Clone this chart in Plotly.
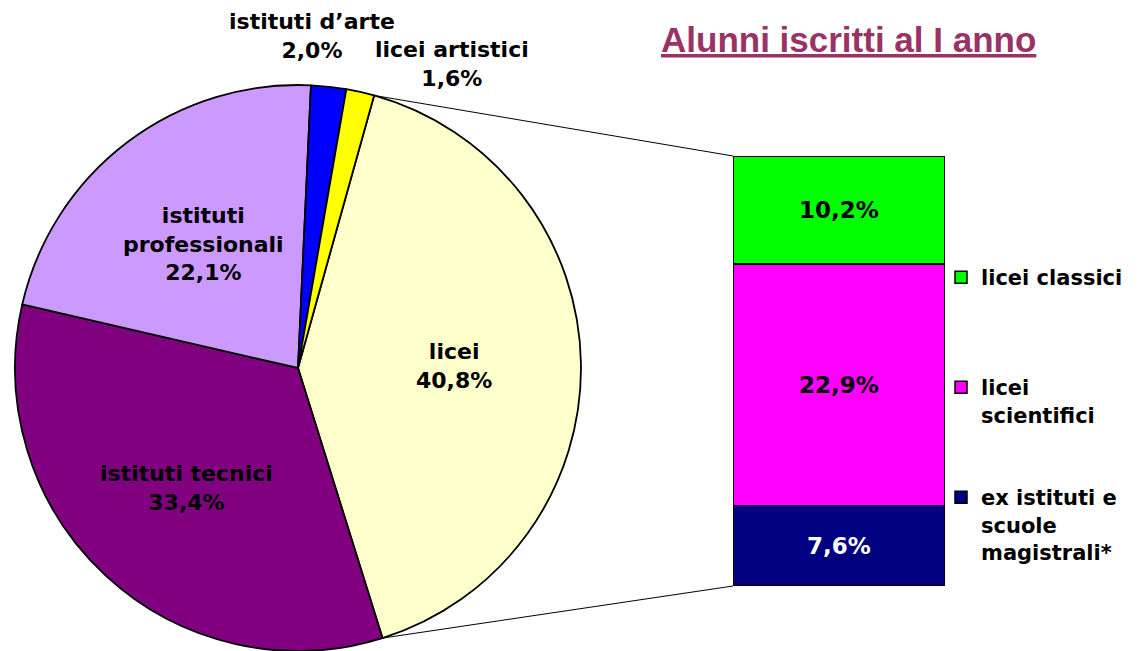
import math
import plotly.graph_objects as go

# ---- data ----
pie_labels = ["licei", "istituti tecnici", "istituti professionali", "istituti d’arte", "licei artistici"]
pie_values = [40.8, 33.4, 22.1, 2.0, 1.6]
pie_colors = ["#FFFFCC", "#800080", "#CC99FF", "#0000FF", "#FFFF00"]

bar_labels = ["ex istituti e scuole magistrali*", "licei scientifici", "licei classici"]
bar_legend = ["ex istituti e<br>scuole<br>magistrali*", "licei<br>scientifici", "licei classici"]
bar_values = [7.6, 22.9, 10.2]
bar_colors = ["#000080", "#FF00FF", "#00FF00"]
bar_text_colors = ["white", "black", "black"]

title_text = "Alunni iscritti al I anno"

W, H = 1138, 651
FONT = "DejaVu Sans"

# ---- layout geometry (pixels) ----
pie_cx, pie_cy, pie_r = 298, 368, 283
bar_x0, bar_x1, bar_y0, bar_y1 = 733, 945, 156, 586
rotation = 15.6  # start angle of the first slice (clockwise from 12 o'clock)

def px(x):
    return x / W

def py(y):
    return 1 - y / H

fig = go.Figure()

fig.add_trace(go.Pie(
    labels=pie_labels, values=pie_values, sort=False, direction="clockwise",
    rotation=rotation, textinfo="none", hoverinfo="label+percent",
    marker=dict(colors=pie_colors, line=dict(color="black", width=1.8)),
    domain=dict(x=[px(pie_cx - pie_r), px(pie_cx + pie_r)], y=[py(pie_cy + pie_r), py(pie_cy - pie_r)]),
    showlegend=False,
))

legend_names = ["legend3", "legend2", "legend"]
for lab, leg, v, c, tc, ln in zip(bar_labels, bar_legend, bar_values, bar_colors, bar_text_colors, legend_names):
    fig.add_trace(go.Bar(
        x=[0], y=[v], name=leg, width=1,
        marker=dict(color=c, line=dict(color="black", width=1.5)),
        texttemplate="%{y:.1f}%", textposition="inside", insidetextanchor="middle",
        textangle=0, textfont=dict(family=FONT, size=23, color=tc, weight="bold"),
        hovertemplate=lab + ": %{y:.1f}%<extra></extra>",
        legend=ln, showlegend=True,
    ))

# ---- pie labels computed from slice geometry ----
total = sum(pie_values)
start = rotation
annotations = []
radial_frac = {"licei": 0.55, "istituti tecnici": 0.58, "istituti professionali": 0.55}
label_text = {"licei": "licei", "istituti tecnici": "istituti tecnici",
              "istituti professionali": "istituti<br>professionali"}
angles = []
for lab, v in zip(pie_labels, pie_values):
    span = v / total * 360
    angles.append((start, start + span))
    mid = math.radians(start + span / 2)
    if lab in radial_frac:
        rr = pie_r * radial_frac[lab]
        x = pie_cx + rr * math.sin(mid)
        y = pie_cy - rr * math.cos(mid)
        annotations.append(dict(
            x=px(x), y=py(y), xref="paper", yref="paper", showarrow=False,
            xanchor="center", yanchor="middle",
            text="<b>%s<br>%s%%</b>" % (label_text[lab], ("%.1f" % v).replace(".", ",")),
            font=dict(family=FONT, size=22, color="black"), align="center",
        ))
    start += span

# outside labels for the small slices
outside_pos = {"istituti d’arte": (312, 36), "licei artistici": (452, 64)}
for lab, v in zip(pie_labels, pie_values):
    if lab in outside_pos:
        x, y = outside_pos[lab]
        annotations.append(dict(
            x=px(x), y=py(y), xref="paper", yref="paper", showarrow=False,
            xanchor="center", yanchor="middle",
            text="<b>%s<br>%s%%</b>" % (lab, ("%.1f" % v).replace(".", ",")),
            font=dict(family=FONT, size=22, color="black"), align="center",
        ))

# title
annotations.append(dict(
    x=px(848), y=py(40), xref="paper", yref="paper", showarrow=False,
    xanchor="center", yanchor="middle",
    text="<u><b>%s</b></u>" % title_text,
    font=dict(family="Liberation Sans", size=35, color="#993366"),
))

# ---- connector lines from licei slice edges to the bar ----
licei_a0, licei_a1 = angles[0]
shapes = []
for ang, by in ((licei_a0, bar_y0), (licei_a1, bar_y1)):
    a = math.radians(ang)
    x0 = pie_cx + pie_r * math.sin(a)
    y0 = pie_cy - pie_r * math.cos(a)
    shapes.append(dict(type="line", xref="paper", yref="paper",
                       x0=px(x0), y0=py(y0), x1=px(bar_x0), y1=py(by),
                       line=dict(color="black", width=1)))

legend_common = dict(font=dict(family=FONT, size=21, color="black", weight="bold"),
                     bgcolor="rgba(0,0,0,0)", valign="top", xanchor="left", yanchor="top",
                     itemclick=False, itemdoubleclick=False)

fig.update_layout(
    width=W, height=H,
    margin=dict(l=0, r=0, t=0, b=0),
    paper_bgcolor="white", plot_bgcolor="white",
    barmode="stack", separators=",.",
    xaxis=dict(domain=[px(bar_x0), px(bar_x1)], range=[-0.5, 0.5], visible=False, fixedrange=True),
    yaxis=dict(domain=[py(bar_y1), py(bar_y0)], range=[0, sum(bar_values)], visible=False, fixedrange=True),
    annotations=annotations, shapes=shapes,
    legend=dict(x=px(941), y=py(257), **legend_common),
    legend2=dict(x=px(941), y=py(367), **legend_common),
    legend3=dict(x=px(941), y=py(477), **legend_common),
    font=dict(family=FONT),
)

fig.write_html("out.html", config={"displayModeBar": False},
               post_script="document.body.style.margin='0px';document.body.style.overflow='hidden';")
